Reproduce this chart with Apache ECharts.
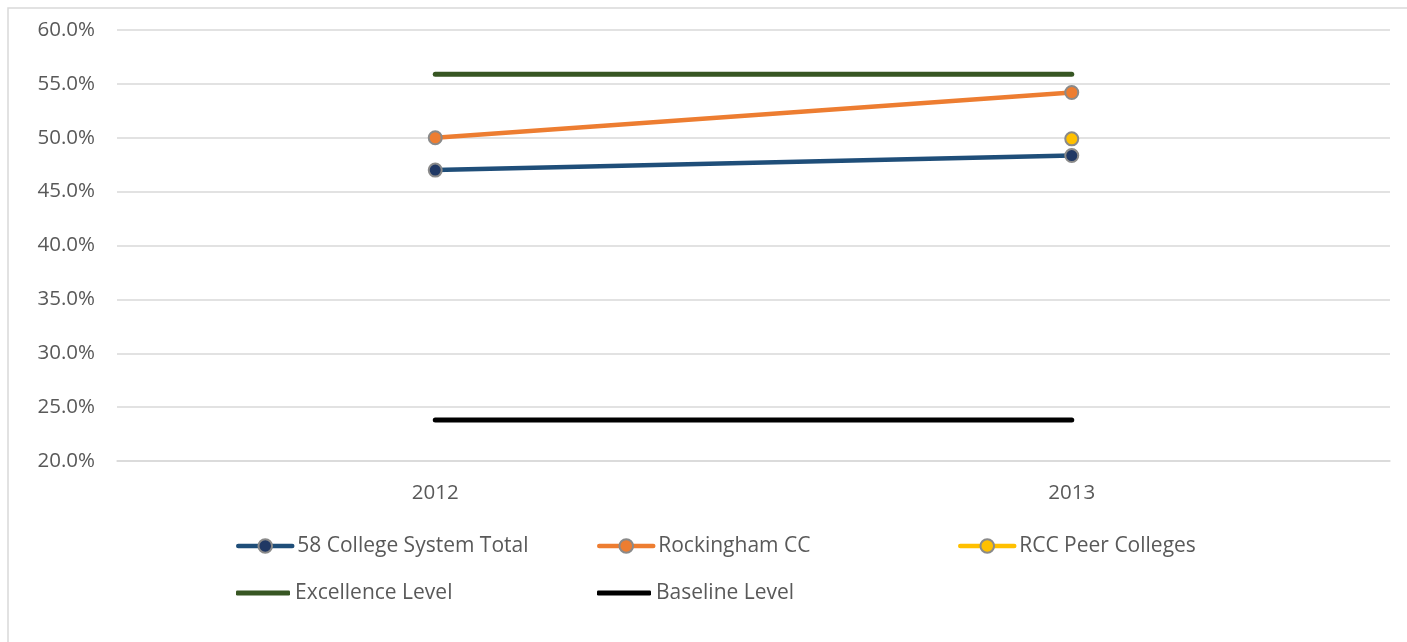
<!DOCTYPE html>
<html>
<head>
<meta charset="utf-8">
<script src="https://cdn.jsdelivr.net/npm/echarts@6/dist/echarts.min.js"></script>
<style>
  html, body { margin: 0; padding: 0; background: #fff; }
  #chart { width: 1407px; height: 642px; }
</style>
</head>
<body>
<div id="chart"></div>
<script>
var years = ['2012', '2013'];
var systemTotal = [47.0, 48.35];
var rockingham = [50.0, 54.2];
var peerColleges = [null, 49.9];
var excellence = [55.9, 55.9];
var baseline = [23.8, 23.8];
var seriesNames = ['58 College System Total', 'Rockingham CC', 'RCC Peer Colleges', 'Excellence Level', 'Baseline Level'];

var FONT = '"Open Sans", sans-serif';

function markerSeries(name, data, lineColor, dotColor) {
    return {
        name: name,
        type: 'line',
        data: data,
        symbol: 'circle',
        symbolSize: 13,
        showSymbol: true,
        lineStyle: { color: lineColor, width: 4.5, cap: 'round' },
        itemStyle: { color: dotColor, borderColor: '#8a8a8a', borderWidth: 2 },
        color: lineColor
    };
}

function levelSeries(name, data, color) {
    return {
        name: name,
        type: 'line',
        data: data,
        symbol: 'none',
        lineStyle: { color: color, width: 5, cap: 'round' },
        itemStyle: { color: color },
        color: color
    };
}

// legend centre lines: one legend per item so the columns line up
var legendPos = [[236, 546], [597, 546], [958, 546], [236, 593], [597, 593]];

document.addEventListener("DOMContentLoaded", () => {
    var chart = echarts.init(document.querySelector("#chart"));
    chart.setOption({
        animation: false,
        graphic: [{
            type: 'rect',
            shape: { x: 8, y: 8, width: 1420, height: 660 },
            style: { fill: 'none', stroke: '#d9d9d9', lineWidth: 1.5 },
            silent: true
        }],
        grid: { left: 117, right: 17, top: 30, bottom: 181 },
        xAxis: {
            type: 'category',
            data: years,
            axisLine: { show: true, lineStyle: { color: '#d9d9d9', width: 1.5 } },
            axisTick: { show: false },
            axisLabel: { color: '#595959', fontSize: 20.5, fontFamily: FONT, margin: 22 }
        },
        yAxis: {
            type: 'value',
            min: 20,
            max: 60,
            interval: 5,
            axisLine: { show: false },
            axisTick: { show: false },
            splitLine: { lineStyle: { color: '#d9d9d9', width: 1.5 } },
            axisLabel: {
                color: '#595959', fontSize: 20.5, fontFamily: FONT, margin: 22,
                formatter: function (v) { return v.toFixed(1) + '%'; }
            }
        },
        legend: legendPos.map(function (p, i) {
            var isLevel = i >= 3;
            var h = isLevel ? 5 : 17;
            return {
                data: [isLevel ? { name: seriesNames[i], icon: 'roundRect' } : seriesNames[i]],
                left: p[0],
                top: p[1] - 14,
                padding: 0,
                itemWidth: 54,
                itemHeight: h,
                itemGap: 0,
                lineStyle: { width: 4.5, cap: 'round' },
                textStyle: { color: '#595959', fontSize: 21, fontFamily: FONT, lineHeight: 28 }
            };
        }),
        series: [
            markerSeries(seriesNames[0], systemTotal, '#1f4e79', '#203864'),
            markerSeries(seriesNames[1], rockingham, '#ed7d31', '#ed7d31'),
            markerSeries(seriesNames[2], peerColleges, '#ffc000', '#ffc000'),
            levelSeries(seriesNames[3], excellence, '#375623'),
            levelSeries(seriesNames[4], baseline, '#000000')
        ]
    });
});
</script>
</body>
</html>
